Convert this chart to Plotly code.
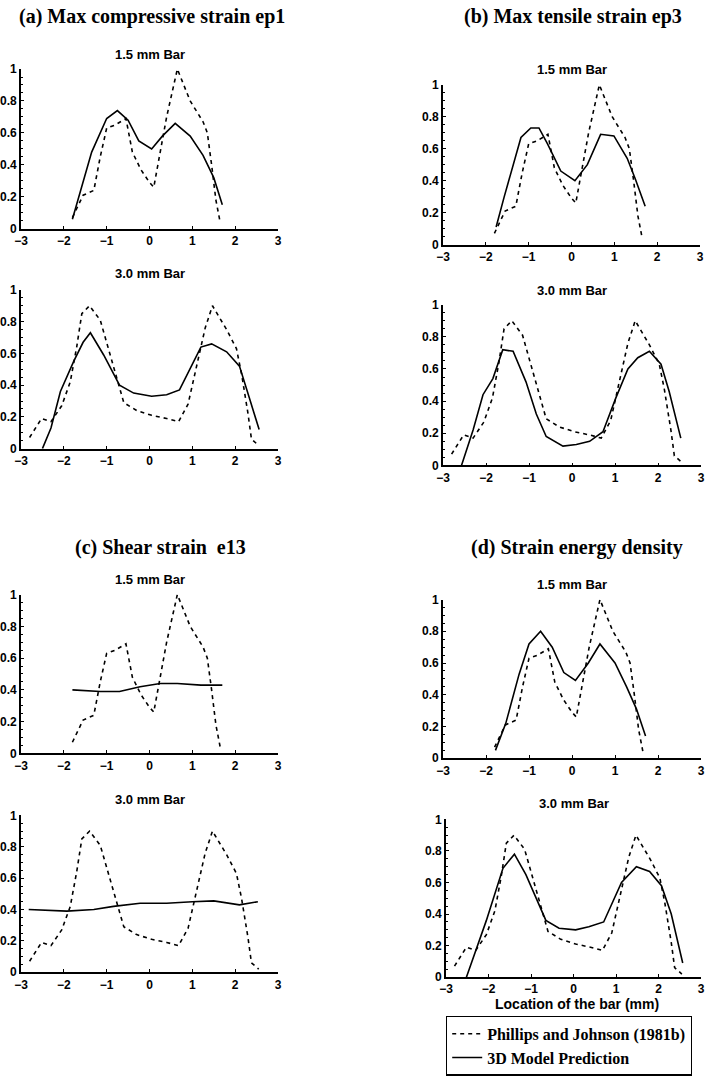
import plotly.graph_objects as go

W, H = 710, 1076

# ---------------- data ----------------
# Experimental (Phillips and Johnson, 1981b), normalised
exp15_x = [-1.8, -1.55, -1.3, -1.15, -1.0, -0.8, -0.55, -0.4, -0.2, 0.0, 0.1, 0.25, 0.4, 0.65, 0.95, 1.25, 1.35, 1.45, 1.55, 1.65]
exp15_y = [0.07, 0.21, 0.24, 0.45, 0.63, 0.65, 0.69, 0.48, 0.37, 0.29, 0.26, 0.47, 0.70, 1.0, 0.80, 0.67, 0.60, 0.40, 0.18, 0.04]
exp30_x = [-2.8, -2.52, -2.3, -2.05, -1.85, -1.7, -1.58, -1.4, -1.15, -1.0, -0.8, -0.6, -0.3, 0.05, 0.4, 0.68, 0.9, 1.15, 1.3, 1.47, 1.8, 2.03, 2.15, 2.3, 2.38, 2.55]
exp30_y = [0.07, 0.19, 0.17, 0.27, 0.42, 0.64, 0.85, 0.90, 0.81, 0.67, 0.49, 0.29, 0.24, 0.21, 0.19, 0.17, 0.28, 0.58, 0.76, 0.90, 0.75, 0.63, 0.47, 0.22, 0.06, 0.02]

# 3D model predictions
a15_x = [-1.8, -1.6, -1.35, -1.0, -0.75, -0.5, -0.25, 0.05, 0.3, 0.6, 0.95, 1.25, 1.5, 1.7]
a15_y = [0.06, 0.24, 0.48, 0.69, 0.74, 0.68, 0.55, 0.50, 0.58, 0.66, 0.58, 0.46, 0.32, 0.15]
a30_x = [-2.5, -2.3, -2.08, -1.77, -1.55, -1.38, -1.07, -0.7, -0.37, 0.05, 0.4, 0.7, 1.2, 1.45, 1.8, 2.1, 2.33, 2.56]
a30_y = [0.0, 0.13, 0.36, 0.55, 0.67, 0.73, 0.59, 0.40, 0.35, 0.33, 0.34, 0.37, 0.64, 0.66, 0.61, 0.52, 0.32, 0.12]
b15_x = [-1.76, -1.57, -1.18, -0.95, -0.76, -0.56, -0.25, 0.08, 0.37, 0.68, 0.99, 1.3, 1.49, 1.72]
b15_y = [0.11, 0.30, 0.67, 0.73, 0.73, 0.63, 0.46, 0.40, 0.50, 0.69, 0.68, 0.54, 0.41, 0.24]
b30_x = [-2.57, -2.30, -2.07, -1.84, -1.61, -1.37, -1.07, -0.83, -0.60, -0.21, 0.10, 0.41, 0.72, 1.02, 1.30, 1.53, 1.80, 2.07, 2.26, 2.53]
b30_y = [0.0, 0.22, 0.44, 0.54, 0.72, 0.71, 0.52, 0.32, 0.18, 0.12, 0.13, 0.15, 0.21, 0.42, 0.60, 0.67, 0.71, 0.63, 0.46, 0.17]
c15_x = [-1.8, -1.15, -0.7, -0.22, 0.25, 0.65, 1.2, 1.7]
c15_y = [0.40, 0.39, 0.39, 0.42, 0.44, 0.44, 0.43, 0.43]
c30_x = [-2.82, -1.93, -1.3, -0.84, -0.22, 0.4, 1.0, 1.5, 2.1, 2.53]
c30_y = [0.40, 0.39, 0.40, 0.42, 0.44, 0.44, 0.45, 0.455, 0.43, 0.45]
d15_x = [-1.78, -1.54, -1.23, -1.0, -0.73, -0.46, -0.19, 0.08, 0.38, 0.65, 1.0, 1.27, 1.5, 1.71]
d15_y = [0.05, 0.22, 0.53, 0.72, 0.80, 0.70, 0.54, 0.49, 0.60, 0.72, 0.60, 0.45, 0.31, 0.14]
d30_x = [-2.52, -2.29, -2.05, -1.66, -1.39, -1.12, -0.65, -0.34, 0.05, 0.36, 0.71, 1.13, 1.48, 1.79, 2.07, 2.30, 2.57]
d30_y = [0.0, 0.17, 0.36, 0.69, 0.78, 0.65, 0.36, 0.31, 0.30, 0.32, 0.35, 0.60, 0.70, 0.67, 0.58, 0.40, 0.09]

x_ticks = [-3, -2, -1, 0, 1, 2, 3]
y_ticks = [0, 0.2, 0.4, 0.6, 0.8, 1]
y_ticktext = ["0", "0.2", "0.4", "0.6", "0.8", "1"]

headings = ["(a) Max compressive strain ep1", "(b) Max tensile strain ep3",
            "(c) Shear strain  e13", "(d) Strain energy density"]
sub_titles = ["1.5 mm Bar", "3.0 mm Bar"]
exp_name = "Phillips and Johnson (1981b)"
model_name = "3D Model Prediction"
x_label = "Location of the bar (mm)"

# ---------------- layout (pixel boxes) ----------------
panels = [
    (a15_x, a15_y, exp15_x, exp15_y, (21, 278, 70, 232), sub_titles[0], 55),
    (a30_x, a30_y, exp30_x, exp30_y, (21, 278, 294, 455), sub_titles[1], 277),
    (b15_x, b15_y, exp15_x, exp15_y, (443, 700, 86, 248), sub_titles[0], 70),
    (b30_x, b30_y, exp30_x, exp30_y, (443, 701, 309, 472), sub_titles[1], 295),
    (c15_x, c15_y, exp15_x, exp15_y, (21, 278, 603, 764), sub_titles[0], 588),
    (c30_x, c30_y, exp30_x, exp30_y, (21, 278, 827, 986), sub_titles[1], 811),
    (d15_x, d15_y, exp15_x, exp15_y, (443, 701, 608, 769), sub_titles[0], 593),
    (d30_x, d30_y, exp30_x, exp30_y, (446, 701, 831, 991), sub_titles[1], 815),
]
heading_pos = [(152, 17), (573, 17), (160, 555), (577, 555)]

fig = go.Figure()
layout = {}
annotations = []
tick_font = dict(family="Liberation Sans, Arial", size=12, color="black", weight=700)

for i, (mx, my, ex, ey, box, st, sty) in enumerate(panels):
    n = i + 1
    xa = "x" if n == 1 else f"x{n}"
    ya = "y" if n == 1 else f"y{n}"
    l, r, t, b = box
    fig.add_trace(go.Scatter(x=ex, y=ey, mode="lines", xaxis=xa, yaxis=ya,
                             line=dict(color="black", width=1.6, dash="4px,4px"),
                             name=exp_name, showlegend=(i == 0), legendrank=1))
    fig.add_trace(go.Scatter(x=mx, y=my, mode="lines", xaxis=xa, yaxis=ya,
                             line=dict(color="black", width=1.6),
                             name=model_name, showlegend=(i == 0), legendrank=2))
    layout["xaxis" if n == 1 else f"xaxis{n}"] = dict(
        domain=[l / W, r / W], anchor=ya, range=[-3, 3], tickvals=x_ticks,
        showline=True, linecolor="black", linewidth=1.8, ticks="inside", ticklen=3,
        tickcolor="black", showgrid=False, zeroline=False, tickfont=tick_font,
        automargin=False, fixedrange=True, ticklabeloverflow="allow")
    layout["yaxis" if n == 1 else f"yaxis{n}"] = dict(
        domain=[1 - b / H, 1 - t / H], anchor=xa, range=[0, 1], tickvals=y_ticks,
        ticktext=y_ticktext, showline=True, linecolor="black", linewidth=1.8,
        ticks="inside", ticklen=3, tickcolor="black", showgrid=False, zeroline=False,
        tickfont=tick_font, automargin=False, fixedrange=True, ticklabeloverflow="allow",
        minor=dict(ticks="inside", ticklen=2, dtick=0.05, tickcolor="black"))
    annotations.append(dict(text=st, x=(l + r) / 2 / W, y=1 - sty / H, xref="paper", yref="paper",
                            showarrow=False, xanchor="center", yanchor="middle",
                            font=dict(family="Liberation Sans, Arial", size=13, color="black",
                                      weight=700)))

for txt, (hx, hy) in zip(headings, heading_pos):
    annotations.append(dict(text=txt, x=hx / W, y=1 - hy / H, xref="paper", yref="paper",
                            showarrow=False, xanchor="center", yanchor="middle",
                            font=dict(family="Liberation Serif, Times New Roman", size=20,
                                      color="black", weight=700)))

annotations.append(dict(text=x_label, x=577 / W, y=1 - 1018 / H, xref="paper", yref="paper",
                        showarrow=False, xanchor="center", yanchor="middle",
                        font=dict(family="Liberation Sans, Arial", size=14, color="black",
                                  weight=700)))

fig.update_layout(
    **layout,
    width=W, height=H,
    margin=dict(l=0, r=0, t=0, b=0),
    paper_bgcolor="white", plot_bgcolor="white",
    annotations=annotations,
    showlegend=True,
    legend=dict(x=446 / W, y=1 - 1030 / H, xanchor="left", yanchor="top",
                bordercolor="black", borderwidth=1.2, bgcolor="white",
                font=dict(family="Liberation Serif, Times New Roman", size=16,
                          color="black", weight=700),
                tracegroupgap=0, itemwidth=30),
)

fig.write_html("out.html", config={"displayModeBar": False},
               post_script="document.body.style.margin='0px';")
